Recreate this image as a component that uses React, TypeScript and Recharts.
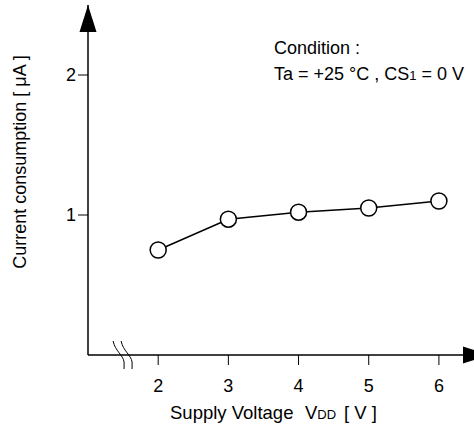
import { Line, LineChart, ReferenceDot, XAxis, YAxis } from "recharts";

const voltage = [2, 3, 4, 5, 6];
const current = [0.75, 0.97, 1.02, 1.05, 1.1];
const xTicks = [2, 3, 4, 5, 6];
const yTicks = [1, 2];

const FONT = "'Liberation Sans', Arial, sans-serif";

const data = voltage.map((v, i) => ({ v, i: current[i] }));

const UpArrow = ({ cx, cy }: any) => (
  <polygon points={`${cx},${cy} ${cx - 8.5},${cy + 27} ${cx + 8.5},${cy + 27}`} fill="#000" />
);

const RightArrow = ({ cx, cy }: any) => (
  <polygon points={`${cx + 16},${cy} ${cx - 11},${cy - 8.5} ${cx - 11},${cy + 8.5}`} fill="#000" />
);

// the two wavy strokes across the x axis
const AxisBreak = ({ cx, cy }: any) => (
  <g fill="none" stroke="#000" strokeWidth={1}>
    {[-10, -2].map((d) => (
      <path
        key={d}
        d={`M${cx + d},${cy - 14} C${cx + d + 2},${cy - 4} ${cx + d + 10},${cy} ${cx + d + 11},${cy + 7} L${cx + d + 11},${cy + 14}`}
      />
    ))}
  </g>
);

export default function App() {
  return (
    <div style={{ position: "absolute", left: 0, top: 0, background: "#fff" }}>
      <LineChart width={474} height={430} data={data} margin={{ top: 5, right: 0, bottom: 0, left: 28 }}>
        <XAxis
          dataKey="v"
          type="number"
          domain={[1, 6.5]}
          ticks={xTicks}
          axisLine={{ stroke: "#000", strokeWidth: 1.5 }}
          tickLine={{ stroke: "#000", strokeWidth: 1 }}
          tickSize={10}
          tickMargin={14}
          height={75}
          tick={{ fontSize: 18, fill: "#000", fontFamily: FONT }}
        />
        <YAxis
          type="number"
          domain={[0, 2.5]}
          ticks={yTicks}
          axisLine={{ stroke: "#000", strokeWidth: 1.5 }}
          tickLine={{ stroke: "#000", strokeWidth: 1 }}
          tickSize={10}
          tickMargin={2}
          width={60}
          tick={{ fontSize: 18, fill: "#000", fontFamily: FONT }}
        />
        <ReferenceDot x={1} y={2.5} ifOverflow="visible" shape={UpArrow} />
        <ReferenceDot x={6.5} y={0} ifOverflow="visible" shape={RightArrow} />
        <ReferenceDot x={1.5} y={0} ifOverflow="visible" shape={AxisBreak} />
        <Line
          dataKey="i"
          stroke="#000"
          strokeWidth={1.5}
          isAnimationActive={false}
          dot={{ r: 8, fill: "#fff", stroke: "#000", strokeWidth: 1.5 }}
        />
        <text x={274} y={54} fontSize={18} fontFamily={FONT} fill="#000">
          Condition :
        </text>
        <text x={274} y={80} fontSize={18} fontFamily={FONT} fill="#000">
          Ta = +25 °C , CS<tspan fontSize={13}>1</tspan> = 0 V
        </text>
        <text x={170} y={419} fontSize={18.5} fontFamily={FONT} fill="#000">
          Supply Voltage
          <tspan x={305}>V</tspan>
          <tspan fontSize={13}>DD</tspan>
          <tspan x={344}>[ V ]</tspan>
        </text>
        <text
          x={20}
          y={162}
          transform="rotate(-90 20 162)"
          textAnchor="middle"
          dominantBaseline="central"
          fontSize={18}
          fontFamily={FONT}
          fill="#000"
        >
          Current consumption [ μA ]
        </text>
      </LineChart>
    </div>
  );
}
